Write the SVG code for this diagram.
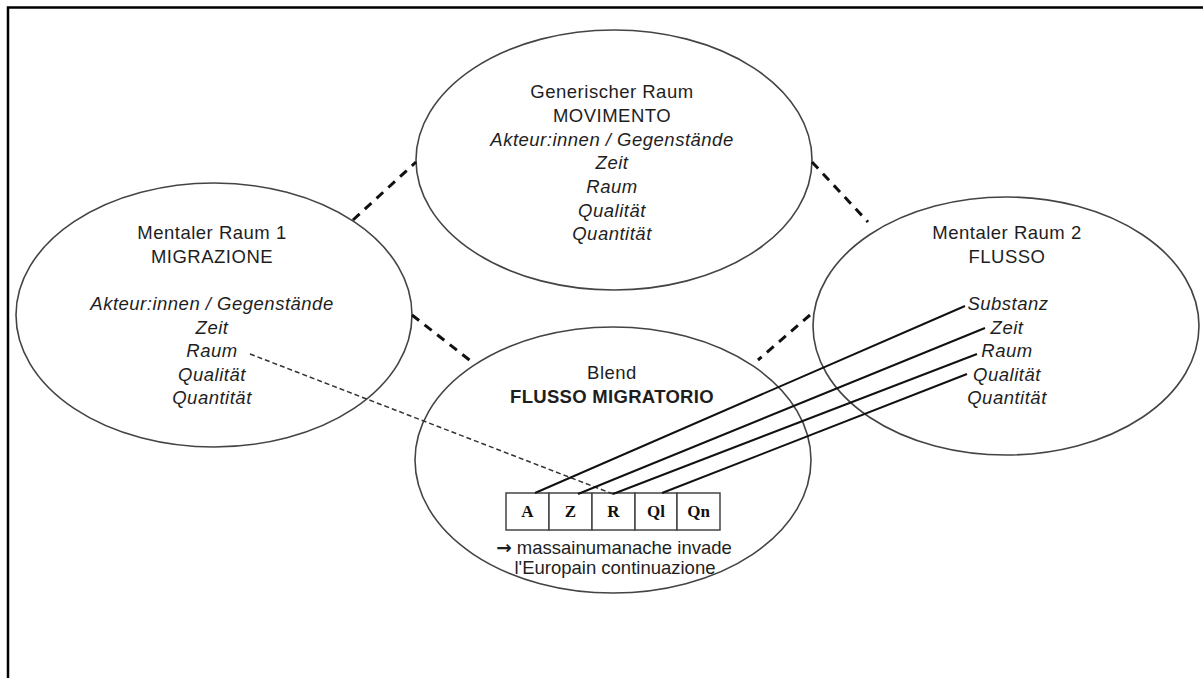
<svg xmlns="http://www.w3.org/2000/svg" width="1203" height="678" viewBox="0 0 1203 678">
<style>
.el{fill:none;stroke:#444;stroke-width:1.6}
.t{font-family:"Liberation Sans",Arial,sans-serif;font-size:18.5px;letter-spacing:0.5px;fill:#1e1e1e;text-anchor:middle}
.i{font-style:italic}
.b{font-weight:bold;letter-spacing:0.3px}
.n{letter-spacing:0}
.box{fill:#fff;stroke:#444;stroke-width:1.5}
.bl{font-family:"Liberation Serif","Times New Roman",serif;font-weight:bold;font-size:17px;fill:#111;text-anchor:middle}
.dash{stroke:#111;stroke-width:3;stroke-dasharray:9 7;fill:none}
.thin{stroke:#333;stroke-width:1.5;stroke-dasharray:5 3;fill:none}
.solid{stroke:#111;stroke-width:2;fill:none}
</style>
<rect width="1203" height="678" fill="#fff"/>
<path d="M8,678 V7.5 H1203" fill="none" stroke="#000" stroke-width="2.5"/>
<g id="generic">
<ellipse class="el" cx="614" cy="160" rx="198" ry="130"/>
<text class="t" x="612" y="98">Generischer Raum</text>
<text class="t" x="612" y="122">MOVIMENTO</text>
<text class="t i" x="612" y="146">Akteur:innen / Gegenstände</text>
<text class="t i" x="612" y="169">Zeit</text>
<text class="t i" x="612" y="193">Raum</text>
<text class="t i" x="612" y="217">Qualität</text>
<text class="t i" x="612" y="240">Quantität</text>
</g>
<g id="mental1">
<ellipse class="el" cx="214" cy="315" rx="198" ry="132"/>
<text class="t" x="212" y="239">Mentaler Raum 1</text>
<text class="t" x="212" y="263">MIGRAZIONE</text>
<text class="t i" x="212" y="310">Akteur:innen / Gegenstände</text>
<text class="t i" x="212" y="334">Zeit</text>
<text class="t i" x="212" y="357">Raum</text>
<text class="t i" x="212" y="381">Qualität</text>
<text class="t i" x="212" y="404">Quantität</text>
</g>
<g id="mental2">
<ellipse class="el" cx="1006" cy="326" rx="193" ry="129"/>
<text class="t" x="1007" y="239">Mentaler Raum 2</text>
<text class="t" x="1007" y="263">FLUSSO</text>
<text class="t i" x="1008" y="310">Substanz</text>
<text class="t i" x="1007" y="334">Zeit</text>
<text class="t i" x="1007" y="357">Raum</text>
<text class="t i" x="1007" y="381">Qualität</text>
<text class="t i" x="1007" y="404">Quantität</text>
</g>
<g id="blend">
<ellipse class="el" cx="613" cy="460" rx="198" ry="133"/>
<text class="t" x="612" y="379">Blend</text>
<text class="t b" x="612" y="403">FLUSSO MIGRATORIO</text>
<text class="t n" x="614" y="554"><tspan font-family="DejaVu Sans,sans-serif" font-weight="bold">→</tspan> massainumanache invade</text>
<text class="t n" x="615" y="574">l'Europain continuazione</text>
</g>
<g id="frames">
<rect class="box" x="506" y="493" width="43" height="37"/>
<rect class="box" x="549" y="493" width="43" height="37"/>
<rect class="box" x="592" y="493" width="43" height="37"/>
<rect class="box" x="635" y="493" width="42" height="37"/>
<rect class="box" x="677" y="493" width="43" height="37"/>
<text class="bl" x="527.5" y="517">A</text>
<text class="bl" x="570.5" y="517">Z</text>
<text class="bl" x="613.5" y="517">R</text>
<text class="bl" x="656" y="517">Ql</text>
<text class="bl" x="698.5" y="517">Qn</text>
</g>
<g id="connectors">
<line class="dash" x1="353" y1="220" x2="416" y2="162"/>
<line class="dash" x1="812" y1="162" x2="868" y2="222"/>
<line class="dash" x1="412" y1="315" x2="472" y2="362"/>
<line class="dash" x1="810" y1="315" x2="758" y2="360"/>
<line class="thin" x1="250" y1="354" x2="613" y2="494"/>
<line class="solid" x1="535" y1="493" x2="965" y2="306"/>
<line class="solid" x1="578" y1="494" x2="985" y2="328"/>
<line class="solid" x1="613" y1="494" x2="977" y2="354"/>
<line class="solid" x1="662" y1="493" x2="967" y2="374"/>
</g>
</svg>
